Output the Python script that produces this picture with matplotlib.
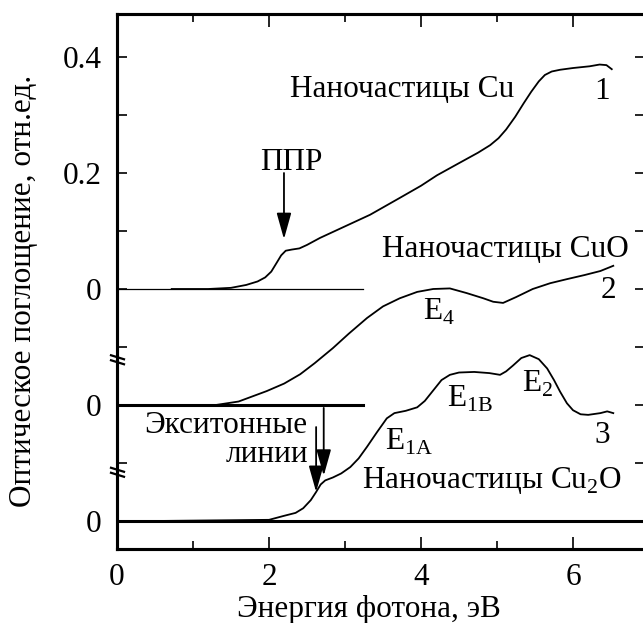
"""
Optical absorption spectra of Cu, CuO and Cu2O nanoparticles
(three curves stacked with vertical offsets, broken left axis).
"""

import matplotlib
matplotlib.use("Agg")
import matplotlib.pyplot as plt
import matplotlib.transforms as mtransforms

# --- data (photon energy, eV / absorbance, rel. units) ---
cu_energy = [0.72, 1.20, 1.50, 1.70, 1.85, 1.95, 2.03, 2.10, 2.16, 2.22,
             2.30, 2.40, 2.50, 2.67, 3.00, 3.33, 3.72, 4.00, 4.21, 4.50,
             4.75, 4.91, 5.02, 5.12, 5.24, 5.35, 5.45, 5.55, 5.63, 5.72,
             5.83, 6.00, 6.22, 6.35, 6.44, 6.51]
cu_abs = [0.0, 0.0, 0.002, 0.007, 0.013, 0.020, 0.030, 0.045, 0.058, 0.066,
          0.068, 0.070, 0.076, 0.088, 0.108, 0.128, 0.157, 0.178, 0.196, 0.217,
          0.235, 0.248, 0.260, 0.275, 0.297, 0.320, 0.340, 0.358, 0.369, 0.375,
          0.378, 0.381, 0.384, 0.387, 0.386, 0.379]

cuo_energy = [1.30, 1.60, 1.97, 2.20, 2.41, 2.60, 2.84, 3.05, 3.29, 3.50,
              3.72, 3.95, 4.16, 4.38, 4.60, 4.82, 4.95, 5.08, 5.25, 5.47,
              5.70, 5.92, 6.15, 6.36, 6.53]
cuo_abs = [0.0, 0.006, 0.024, 0.037, 0.053, 0.072, 0.098, 0.123, 0.150, 0.170,
           0.184, 0.195, 0.200, 0.201, 0.193, 0.184, 0.178, 0.176, 0.186, 0.200,
           0.210, 0.217, 0.224, 0.231, 0.240]

cu2o_energy = [0.50, 2.00, 2.20, 2.35, 2.45, 2.55, 2.62, 2.68, 2.74, 2.84,
               2.95, 3.07, 3.18, 3.29, 3.42, 3.55, 3.65, 3.80, 3.95, 4.05,
               4.16, 4.27, 4.38, 4.50, 4.70, 4.90, 5.04, 5.12, 5.21, 5.32,
               5.43, 5.55, 5.66, 5.75, 5.83, 5.92, 6.00, 6.10, 6.20, 6.36,
               6.45, 6.53]
cu2o_abs = [0.0, 0.002, 0.009, 0.014, 0.022, 0.036, 0.050, 0.063, 0.070, 0.075,
            0.082, 0.093, 0.108, 0.128, 0.153, 0.177, 0.186, 0.190, 0.196, 0.207,
            0.225, 0.243, 0.252, 0.256, 0.257, 0.255, 0.252, 0.258, 0.268, 0.281,
            0.286, 0.279, 0.263, 0.243, 0.223, 0.203, 0.191, 0.184, 0.183, 0.186,
            0.189, 0.186]

# vertical offsets of the three stacked curves
offsets = {"cu": 0.45, "cuo": 0.25, "cu2o": 0.05}

x_ticks = [0, 2, 4, 6]
y_tick_pos = [0.05, 0.25, 0.45, 0.65, 0.85]
y_tick_lab = ["0", "0", "0", "0.2", "0.4"]
y_minor_pos = [0.15, 0.35, 0.55, 0.75]

FS = 22.5
plt.rcParams["font.family"] = ["Liberation Serif", "DejaVu Serif"]
plt.rcParams["mathtext.fontset"] = "custom"
plt.rcParams["mathtext.rm"] = "Liberation Serif"


def main():
    fig = plt.figure(figsize=(6.43, 6.23), dpi=100)
    # right spine sits just outside the picture, as in the original
    ax = fig.add_axes([117 / 643, 1 - 549 / 623, 532 / 643, 535 / 623])
    ax.set_xlim(0, 7)
    ax.set_ylim(0.05 - 28 / 580, 0.05 + 507 / 580)

    # --- baselines ---
    ax.plot([0, 3.24], [offsets["cu"]] * 2, color="black", lw=0.9)
    ax.plot([0, 3.24], [offsets["cuo"]] * 2, color="black", lw=2.2)
    ax.plot([0, 7], [offsets["cu2o"]] * 2, color="black", lw=2.2)

    # --- spectra ---
    ax.plot(cu_energy, [v + offsets["cu"] for v in cu_abs], color="black", lw=1.3)
    ax.plot(cuo_energy, [v + offsets["cuo"] for v in cuo_abs], color="black", lw=1.3)
    ax.plot(cu2o_energy, [v + offsets["cu2o"] for v in cu2o_abs], color="black", lw=1.3)

    # --- ticks ---
    ax.set_xticks(x_ticks)
    ax.set_xticks([1, 3, 5], minor=True)
    ax.set_yticks(y_tick_pos, y_tick_lab)
    ax.set_yticks(y_minor_pos, minor=True)
    ax.tick_params(axis="both", which="both", direction="in", labelsize=FS,
                   width=1.2, top=True)
    ax.tick_params(axis="x", which="major", length=9, pad=10)
    ax.tick_params(axis="x", which="minor", length=6)
    ax.tick_params(axis="y", which="both", length=7.5, pad=11)

    axr = ax.twinx()
    axr.set_ylim(ax.get_ylim())
    axr.set_yticks([0.05 + 0.1 * i for i in range(9)], [""] * 9)
    axr.tick_params(axis="y", direction="in", length=10, width=1.2)

    for a in (ax, axr):
        for side in ("top", "bottom", "left", "right"):
            a.spines[side].set_linewidth(2.2)

    # axis break marks on the left spine
    trans = mtransforms.blended_transform_factory(ax.transAxes, ax.transData)
    px_x = 1 / 532
    px_y = 0.1 / 58
    for yb in (0.328, 0.134):
        for dy in (-2.5, 2.5):
            ax.plot([-6 * px_x, 7 * px_x],
                    [yb + (dy + 2) * px_y, yb + (dy - 2) * px_y],
                    transform=trans, color="black", lw=1.6, clip_on=False)

    # --- labels on the curves ---
    ax.text(3.757, 0.781, "Наночастицы Cu", fontsize=FS, ha="center", va="baseline")
    ax.text(6.38, 0.778, "1", fontsize=FS, ha="center", va="baseline")
    ax.text(5.11, 0.505, "Наночастицы CuO", fontsize=FS, ha="center", va="baseline")
    ax.text(6.46, 0.434, "2", fontsize=FS, ha="center", va="baseline")
    ax.text(4.94, 0.107, r"Наночастицы Cu$_\mathregular{2}$O", fontsize=FS,
            ha="center", va="baseline")
    ax.text(6.39, 0.184, "3", fontsize=FS, ha="center", va="baseline")

    ax.text(4.03, 0.397, r"E$_\mathregular{4}$", fontsize=FS, ha="left", va="baseline")
    ax.text(3.53, 0.172, r"E$_\mathregular{1A}$", fontsize=FS, ha="left", va="baseline")
    ax.text(4.34, 0.247, r"E$_\mathregular{1B}$", fontsize=FS, ha="left", va="baseline")
    ax.text(5.33, 0.272, r"E$_\mathregular{2}$", fontsize=FS, ha="left", va="baseline")

    ax.text(2.29, 0.655, "ППР", fontsize=FS, ha="center", va="baseline")
    ax.text(2.51, 0.202, "Экситонные", fontsize=FS, ha="right", va="baseline")
    ax.text(2.51, 0.152, "линии", fontsize=FS, ha="right", va="baseline")

    arrow = dict(arrowstyle="-|>,head_width=0.28,head_length=1.0",
                 color="black", lw=1.3, mutation_scale=16, shrinkA=0, shrinkB=0)
    ax.annotate("", xy=(2.197, 0.536), xytext=(2.197, 0.650), arrowprops=arrow)
    ax.annotate("", xy=(2.62, 0.100), xytext=(2.62, 0.212), arrowprops=arrow)
    ax.annotate("", xy=(2.72, 0.128), xytext=(2.72, 0.245), arrowprops=arrow)

    # --- axis titles ---
    fig.text(369 / 643, 1 - 610 / 623, "Энергия фотона, эВ", fontsize=FS,
             ha="center", va="center")
    fig.text(24 / 643, 1 - 291 / 623, "Оптическое поглощение, отн.ед.",
             fontsize=FS, rotation=90, ha="center", va="center")

    fig.savefig("out.png", dpi=100)


if __name__ == "__main__":
    main()
